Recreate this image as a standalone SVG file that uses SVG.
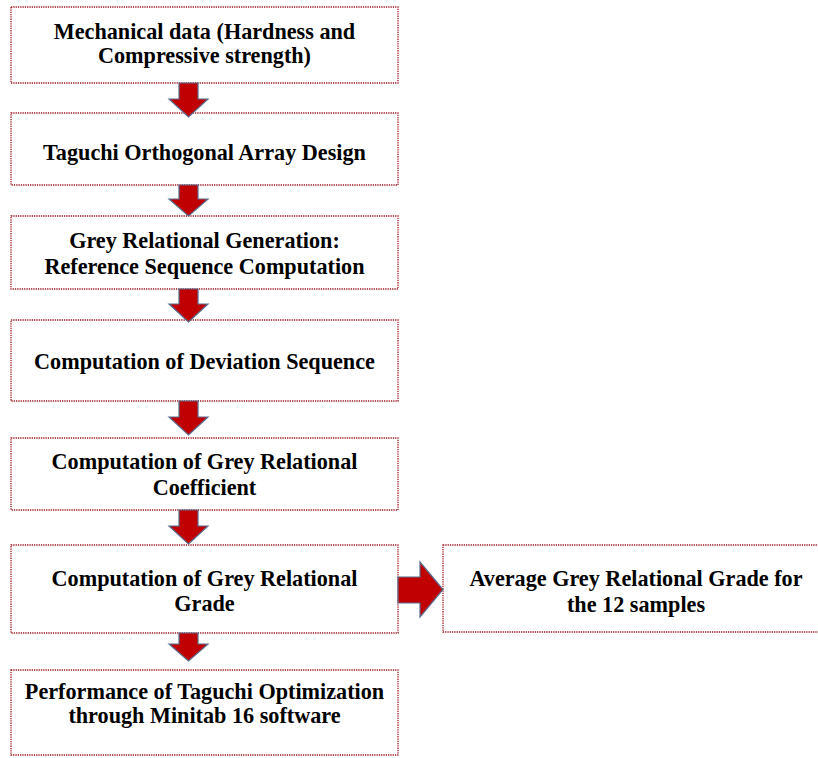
<svg xmlns="http://www.w3.org/2000/svg" width="818" height="758" viewBox="0 0 818 758">
<style>
.box{fill:#fff;stroke:#9E1A20;stroke-width:1.3;stroke-dasharray:1.3 1}
.t{font-family:"Liberation Serif","Times New Roman",serif;font-weight:bold;font-size:22.2px;fill:#000;text-anchor:middle}
.arr{fill:#C00000;stroke:#5B6C8E;stroke-width:1.2;stroke-linejoin:miter}
</style>
<rect width="818" height="758" fill="#fff"/>
<g id="n1"><rect class="box" x="11" y="7" width="387" height="76"/><text class="t" x="204.5" y="39">Mechanical data (Hardness and</text><text class="t" x="204.5" y="63">Compressive strength)</text></g>
<g id="n2"><rect class="box" x="11" y="113" width="387" height="72"/><text class="t" x="204.5" y="160">Taguchi Orthogonal Array Design</text></g>
<g id="n3"><rect class="box" x="11" y="216" width="387" height="73"/><text class="t" x="204.5" y="248">Grey Relational Generation:</text><text class="t" x="204.5" y="274">Reference Sequence Computation</text></g>
<g id="n4"><rect class="box" x="11" y="320" width="387" height="81"/><text class="t" x="204.5" y="369">Computation of Deviation Sequence</text></g>
<g id="n5"><rect class="box" x="11" y="438" width="387" height="72"/><text class="t" x="204.5" y="469">Computation of Grey Relational</text><text class="t" x="204.5" y="495">Coefficient</text></g>
<g id="n6"><rect class="box" x="11" y="545" width="387" height="88"/><text class="t" x="204.5" y="586">Computation of Grey Relational</text><text class="t" x="204.5" y="611">Grade</text></g>
<g id="n7"><rect class="box" x="11" y="670" width="387" height="85"/><text class="t" x="204.5" y="699">Performance of Taguchi Optimization</text><text class="t" x="204.5" y="723">through Minitab 16 software</text></g>
<g id="n8"><rect class="box" x="443" y="545" width="386" height="87"/><text class="t" x="636" y="586">Average Grey Relational Grade for</text><text class="t" x="636" y="612">the 12 samples</text></g>
<g id="connectors">
<path class="arr" d="M179,83 H198 V99 H208 L188.5,117 L169,99 H179 Z"/>
<path class="arr" d="M179,185 H198 V199 H208 L188.5,216 L169,199 H179 Z"/>
<path class="arr" d="M179,289 H198 V304 H208 L188.5,322 L169,304 H179 Z"/>
<path class="arr" d="M179,401 H198 V417 H208 L188.5,435 L169,417 H179 Z"/>
<path class="arr" d="M179,510 H198 V526 H208 L188.5,544 L169,526 H179 Z"/>
<path class="arr" d="M179,633 H198 V644 H208 L188.5,661 L169,644 H179 Z"/>
<path class="arr" d="M398,577 H420 V562 L443,589.5 L420,617 V603 H398 Z"/>
</g>
</svg>
